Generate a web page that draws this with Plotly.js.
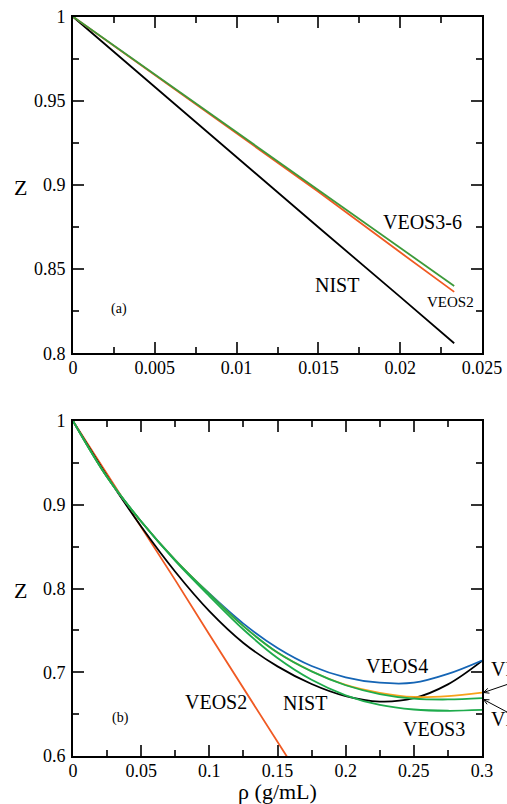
<!DOCTYPE html>
<html>
<head>
<meta charset="utf-8">
<script src="https://cdn.plot.ly/plotly-3.0.1.min.js"></script>
<style>html,body{margin:0;padding:0;background:#fff;}#chart{width:507px;height:804px;}</style>
</head>
<body>
<div id="chart"></div>
<script>
// ---- Panel (a): low density ----
const topRho = [0, 0.005, 0.01, 0.015, 0.02, 0.0233];
const topNIST = [1, 0.9582, 0.9165, 0.8749, 0.8335, 0.806];
const topVEOS2 = [1, 0.9655, 0.9310, 0.8960, 0.8600, 0.8365];
const topVEOS36 = [1, 0.9656, 0.9313, 0.8970, 0.8627, 0.840];

// ---- Panel (b): full density range ----
const botRho = [0, 0.025, 0.05, 0.075, 0.1, 0.125, 0.15, 0.175, 0.2, 0.225, 0.25, 0.275, 0.3];
const botNIST  = [1, 0.934, 0.874, 0.820, 0.773, 0.735, 0.707, 0.686, 0.6715, 0.665, 0.669, 0.6855, 0.7135];
const botVEOS4 = [1, 0.933, 0.880, 0.834, 0.794, 0.758, 0.729, 0.7075, 0.694, 0.6875, 0.6875, 0.698, 0.714];
const botVEOS5 = [1, 0.933, 0.880, 0.834, 0.7935, 0.755, 0.7235, 0.7012, 0.685, 0.6755, 0.6705, 0.6715, 0.6756];
const botVEOS6 = [1, 0.933, 0.880, 0.834, 0.7935, 0.755, 0.7235, 0.701, 0.6845, 0.674, 0.6685, 0.6675, 0.669];
const botVEOS3 = [1, 0.933, 0.880, 0.833, 0.791, 0.751, 0.717, 0.691, 0.6725, 0.661, 0.6555, 0.654, 0.655];
const botRho2  = [0, 0.025, 0.05, 0.075, 0.1, 0.125, 0.15, 0.175];
const botVEOS2 = [1, 0.937, 0.874, 0.810, 0.745, 0.681, 0.617, 0.553];

// tick settings
const topXTicks = [0, 0.005, 0.01, 0.015, 0.02, 0.025];
const topYTicks = [0.8, 0.85, 0.9, 0.95, 1];
const botXTicks = [0, 0.05, 0.1, 0.15, 0.2, 0.25, 0.3];
const botYTicks = [0.6, 0.7, 0.8, 0.9, 1];

const cBlack = '#000000', cRed = '#f05a23', cGreenTop = '#3d9a3a',
      cGreen = '#1eab4c', cBlue = '#1565b5', cOrange = '#f7a21b';

const traces = [
  {x: topRho, y: topNIST, xaxis: 'x', yaxis: 'y', mode: 'lines', name: 'NIST', line: {color: cBlack, width: 1.8}},
  {x: topRho, y: topVEOS2, xaxis: 'x', yaxis: 'y', mode: 'lines', name: 'VEOS2', line: {color: cRed, width: 1.8}},
  {x: topRho, y: topVEOS36, xaxis: 'x', yaxis: 'y', mode: 'lines', name: 'VEOS3-6', line: {color: cGreenTop, width: 1.8}},

  {x: botRho2, y: botVEOS2, xaxis: 'x2', yaxis: 'y2', mode: 'lines', name: 'VEOS2', line: {color: cRed, width: 1.8}},
  {x: botRho, y: botNIST, xaxis: 'x2', yaxis: 'y2', mode: 'lines', name: 'NIST', line: {color: cBlack, width: 1.8, shape: 'spline'}},
  {x: botRho, y: botVEOS4, xaxis: 'x2', yaxis: 'y2', mode: 'lines', name: 'VEOS4', line: {color: cBlue, width: 1.8, shape: 'spline'}},
  {x: botRho, y: botVEOS5, xaxis: 'x2', yaxis: 'y2', mode: 'lines', name: 'VEOS5', line: {color: cOrange, width: 1.8, shape: 'spline'}},
  {x: botRho, y: botVEOS3, xaxis: 'x2', yaxis: 'y2', mode: 'lines', name: 'VEOS3', line: {color: cGreen, width: 1.8, shape: 'spline'}},
  {x: botRho, y: botVEOS6, xaxis: 'x2', yaxis: 'y2', mode: 'lines', name: 'VEOS6', line: {color: cGreen, width: 1.8, shape: 'spline'}}
];

const font = 'Liberation Serif';
function axis(range, ticks, minorDtick, domain, anchor, standoff) {
  return {
    range: range, domain: domain, anchor: anchor,
    tickmode: 'array', tickvals: ticks,
    showline: true, linecolor: '#000', linewidth: 2, mirror: 'ticks',
    ticks: 'inside', ticklen: 11, tickwidth: 2, tickcolor: '#333',
    minor: {ticks: 'inside', ticklen: 6, tickwidth: 2, tickcolor: '#333', dtick: minorDtick, tick0: 0, showgrid: false},
    showgrid: false, zeroline: false, automargin: false,
    ticklabelstandoff: standoff,
    tickfont: {family: font, size: 18, color: '#000'}
  };
}

const W = 507, H = 804;
const xDom = [73/W, 482/W];
const topDom = [(H-353.3)/H, (H-16.7)/H];
const botDom = [(H-756)/H, (H-421)/H];

// pixel -> paper helpers for the small pointer arrows of panel (b)
const px = v => v / W, py = v => (H - v) / H;
function arrowPath(hx, hy, tx, ty) {
  const dx = tx - hx, dy = ty - hy, L = Math.hypot(dx, dy);
  const ux = dx / L, uy = dy / L, a = 25 * Math.PI / 180, s = 6;
  const r1 = [ux*Math.cos(a) - uy*Math.sin(a), ux*Math.sin(a) + uy*Math.cos(a)];
  const r2 = [ux*Math.cos(a) + uy*Math.sin(a), -ux*Math.sin(a) + uy*Math.cos(a)];
  return 'M' + px(tx) + ',' + py(ty) + 'L' + px(hx) + ',' + py(hy) +
         'M' + px(hx + s*r1[0]) + ',' + py(hy + s*r1[1]) + 'L' + px(hx) + ',' + py(hy) +
         'L' + px(hx + s*r2[0]) + ',' + py(hy + s*r2[1]);
}

const ann = (xref, yref, x, y, text, size, extra) => Object.assign(
  {xref: xref, yref: yref, x: x, y: y, text: text, showarrow: false,
   xanchor: 'center', yanchor: 'middle', font: {family: font, size: size, color: '#000'}}, extra || {});

const layout = {
  width: W, height: H,
  margin: {l: 0, r: 0, t: 0, b: 0},
  paper_bgcolor: '#fff', plot_bgcolor: '#fff',
  showlegend: false,
  font: {family: font, color: '#000'},
  xaxis: axis([0, 0.025], topXTicks, 0.0025, xDom, 'y', -3),
  yaxis: axis([0.8, 1], topYTicks, 0.025, topDom, 'x', 2),
  xaxis2: Object.assign(axis([0, 0.3], botXTicks, 0.025, xDom, 'y2', -3),
    {title: {text: 'ρ (g/mL)', font: {family: font, size: 22, color: '#000'}, standoff: 8}}),
  yaxis2: axis([0.6, 1], botYTicks, 0.05, botDom, 'x2', 2),
  shapes: [
    {type: 'path', xref: 'paper', yref: 'paper', path: arrowPath(483.5, 692.5, 507, 684.5), line: {color: '#000', width: 1}},
    {type: 'path', xref: 'paper', yref: 'paper', path: arrowPath(483.5, 699.5, 507, 712), line: {color: '#000', width: 1}}
  ],
  annotations: [
    ann('paper', 'paper', 20/W, (H-187)/H, 'Z', 22),
    ann('paper', 'paper', 20/W, (H-590)/H, 'Z', 22),
    ann('x', 'y', 0.02135, 0.878, 'VEOS3-6', 20),
    ann('x', 'y', 0.01613, 0.8406, 'NIST', 20),
    ann('x', 'y', 0.02306, 0.8302, 'VEOS2', 15),
    ann('x', 'y', 0.00282, 0.8266, '(a)', 14),
    ann('x2', 'y2', 0.1047, 0.6648, 'VEOS2', 20),
    ann('x2', 'y2', 0.170, 0.6636, 'NIST', 20),
    ann('x2', 'y2', 0.2379, 0.7075, 'VEOS4', 20),
    ann('x2', 'y2', 0.2646, 0.6319, 'VEOS3', 20),
    ann('x2', 'y2', 0.0345, 0.6458, '(b)', 14),
    ann('paper', 'paper', 489/W, (H-669)/H, 'VEOS5', 20, {xanchor: 'left'}),
    ann('paper', 'paper', 489/W, (H-718.5)/H, 'VEOS6', 20, {xanchor: 'left'})
  ]
};

Plotly.newPlot('chart', traces, layout, {staticPlot: true, displayModeBar: false});
</script>
</body>
</html>
